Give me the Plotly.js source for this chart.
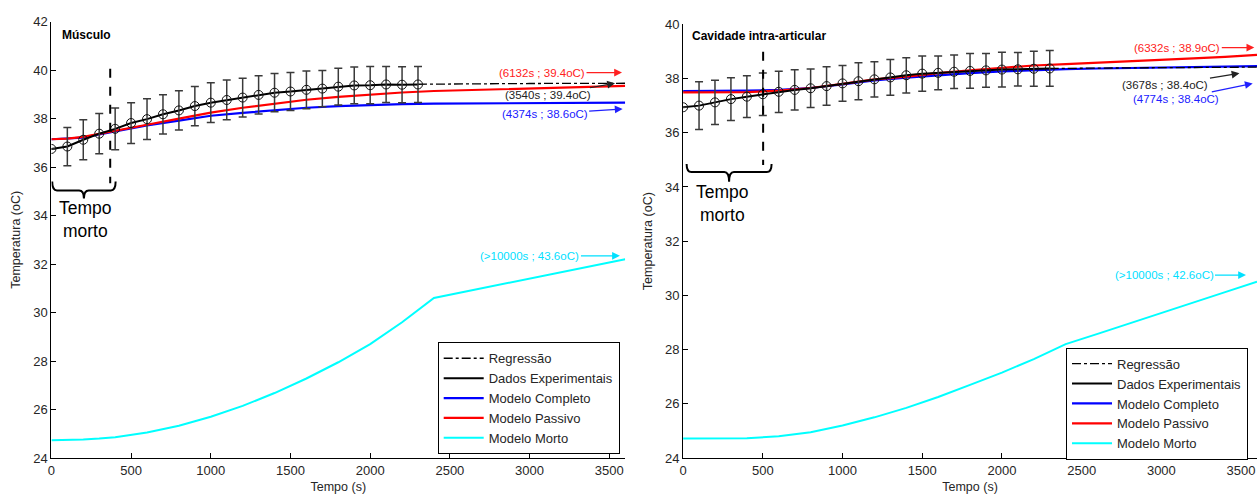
<!DOCTYPE html>
<html>
<head>
<meta charset="utf-8">
<script src="https://cdn.plot.ly/plotly-3.0.1.min.js"></script>
<style>html,body{margin:0;padding:0;background:#fff;}#chart{width:1257px;height:496px;}</style>
</head>
<body>
<div id="chart"></div>
<script>
// ---------- DATA ----------
const tExp = [0,100,200,300,400,500,600,700,800,900,1000,1100,1200,1300,1400,1500,1600,1700,1800,1900,2000,2100,2200,2300];
const muscExp = [36.75,36.85,37.13,37.38,37.58,37.82,37.98,38.18,38.34,38.52,38.66,38.77,38.87,38.98,39.07,39.12,39.19,39.24,39.32,39.37,39.38,39.41,39.40,39.41];
const muscErr = [0,0.79,0.83,0.83,0.86,0.84,0.84,0.81,0.81,0.81,0.82,0.82,0.80,0.79,0.79,0.78,0.78,0.75,0.76,0.76,0.77,0.74,0.74,0.74];
const cavExp = [36.94,37.00,37.12,37.24,37.33,37.42,37.51,37.58,37.64,37.72,37.82,37.90,37.97,38.04,38.12,38.18,38.21,38.25,38.28,38.30,38.33,38.34,38.36,38.37];
const cavErr = [0,0.88,0.82,0.79,0.77,0.78,0.76,0.74,0.71,0.71,0.66,0.68,0.65,0.66,0.65,0.65,0.62,0.62,0.64,0.62,0.64,0.62,0.65,0.66];

const tModel = [0,100,200,300,400,600,800,1000,1200,1400,1600,1800,2000,2200,2400,2600,2800,3000,3200,3400,3600];
const muscPassivo = [37.15,37.18,37.25,37.38,37.52,37.75,38.00,38.25,38.45,38.62,38.78,38.90,39.00,39.08,39.14,39.18,39.22,39.26,39.29,39.32,39.35];
const muscCompleto = [37.15,37.17,37.22,37.35,37.48,37.72,37.92,38.12,38.24,38.36,38.45,38.52,38.57,38.60,38.62,38.63,38.64,38.65,38.65,38.66,38.66];
const muscMorto = [24.73,24.74,24.76,24.80,24.86,25.05,25.33,25.70,26.15,26.68,27.28,27.95,28.70,29.60,30.60,30.87,31.13,31.40,31.67,31.93,32.20];
const cavPassivo = [37.49,37.49,37.49,37.50,37.50,37.55,37.65,37.80,37.97,38.07,38.20,38.30,38.40,38.48,38.53,38.58,38.62,38.68,38.74,38.80,38.87];
const cavCompleto = [37.54,37.54,37.54,37.54,37.55,37.58,37.65,37.78,37.93,38.03,38.12,38.20,38.26,38.31,38.35,38.37,38.39,38.41,38.43,38.45,38.46];
const cavMorto = [24.72,24.72,24.72,24.72,24.73,24.80,24.95,25.20,25.50,25.85,26.25,26.70,27.15,27.65,28.20,28.58,28.97,29.35,29.73,30.12,30.50];

const tReg = [2300,2600,3000,3600];
const muscReg = [39.42,39.44,39.45,39.46];
const cavReg = [38.37,38.39,38.40,38.42];

const legendNames = ['Regressão','Dados Experimentais','Modelo Completo','Modelo Passivo','Modelo Morto'];
const xTicks = [0,500,1000,1500,2000,2500,3000,3500];

// ---------- STYLE ----------
const FONT = 'Liberation Sans, Arial, sans-serif';
const TXT = '#262626';
const RED = '#ff0000', BLUE = '#0000ff', CYAN = '#00ffff', BLACK = '#000000';

function panel(xa, ya, leg, exp, err, passivo, completo, morto, reg) {
  return [
    {x: tModel, y: morto, xaxis: xa, yaxis: ya, mode: 'lines', name: legendNames[4], legend: leg, legendrank: 5,
     line: {color: CYAN, width: 2}},
    {x: tModel, y: completo, xaxis: xa, yaxis: ya, mode: 'lines', name: legendNames[2], legend: leg, legendrank: 3,
     line: {color: BLUE, width: 2.2}},
    {x: tModel, y: passivo, xaxis: xa, yaxis: ya, mode: 'lines', name: legendNames[3], legend: leg, legendrank: 4,
     line: {color: RED, width: 2.2}},
    {x: tReg, y: reg, xaxis: xa, yaxis: ya, mode: 'lines', name: legendNames[0], legend: leg, legendrank: 1,
     line: {color: BLACK, width: 1.3, dash: 'dashdot'}},
    {x: tExp, y: exp, xaxis: xa, yaxis: ya, mode: 'lines', name: legendNames[1], legend: leg, legendrank: 2,
     line: {color: BLACK, width: 2}},
    {x: tExp, y: exp, xaxis: xa, yaxis: ya, mode: 'markers', showlegend: false, legend: leg,
     marker: {symbol: 'circle-open', size: 9, color: '#111', line: {width: 1, color: '#111'}},
     error_y: {type: 'data', array: err, visible: true, color: '#3a3a3a', thickness: 1.5, width: 4}}
  ];
}

const data = [].concat(
  panel('x', 'y', 'legend', muscExp, muscErr, muscPassivo, muscCompleto, muscMorto, muscReg),
  panel('x2', 'y2', 'legend2', cavExp, cavErr, cavPassivo, cavCompleto, cavMorto, cavReg)
);

const W = 1257, H = 496;
const px = v => v / W, py = v => 1 - v / H;

function xaxisDef(d0, d1, anchor) {
  return {domain: [d0, d1], range: [0, 3600], anchor: anchor, tickvals: xTicks, ticks: 'inside', ticklen: 5,
    tickcolor: '#000', showline: true, linecolor: '#000', linewidth: 1, showgrid: false, zeroline: false,
    tickfont: {family: FONT, size: 13, color: TXT},
    title: {text: 'Tempo (s)', font: {family: FONT, size: 12.5, color: TXT}, standoff: 5}};
}
function yaxisDef(d0, d1, anchor, r1) {
  return {domain: [d0, d1], range: [24, r1], anchor: anchor, dtick: 2, ticks: 'inside', ticklen: 5,
    tickcolor: '#000', showline: true, linecolor: '#000', linewidth: 1, showgrid: false, zeroline: false,
    tickfont: {family: FONT, size: 13, color: TXT},
    title: {text: 'Temperatura (oC)', font: {family: FONT, size: 12.5, color: TXT}, standoff: 9}};
}

function brace(x0, x1, yTop, yMid, yBot, dx) {
  const xc = (x0 + x1) / 2;
  return `M ${x0},${yTop} Q ${x0},${yMid} ${x0+dx},${yMid} L ${xc-dx},${yMid} Q ${xc},${yMid} ${xc},${yBot} ` +
         `Q ${xc},${yMid} ${xc+dx},${yMid} L ${x1-dx},${yMid} Q ${x1},${yMid} ${x1},${yTop}`;
}

function arrowNote(xref, yref, x, y, ax, ay, text, color) {
  return {xref: xref, yref: yref, x: x, y: y, ax: ax, ay: ay, text: text, showarrow: true,
    arrowhead: 2, arrowsize: 1.3, arrowwidth: 1.2, arrowcolor: color, standoff: 0,
    font: {family: FONT, size: 11.5, color: color}};
}

const legendStyle = {xanchor: 'left', yanchor: 'top', bgcolor: '#fff', bordercolor: '#000', borderwidth: 1,
  font: {family: FONT, size: 13, color: TXT}, traceorder: 'normal', itemwidth: 40, tracegroupgap: 0};

const layout = {
  width: W, height: H,
  margin: {l: 0, r: 0, t: 0, b: 0},
  paper_bgcolor: '#fff', plot_bgcolor: '#fff',
  showlegend: true,
  xaxis: xaxisDef(px(51.4), px(625.2), 'y'),
  yaxis: yaxisDef(py(458), py(21.7), 'x', 42),
  xaxis2: xaxisDef(px(683.1), 1, 'y2'),
  yaxis2: yaxisDef(py(458), py(24.3), 'x2', 40),
  legend: Object.assign({x: px(437.7), y: py(342.3)}, legendStyle),
  legend2: Object.assign({x: px(1066), y: py(347.7)}, legendStyle),
  shapes: [
    {type: 'line', xref: 'x', yref: 'y', x0: 369, x1: 369, y0: 40.06, y1: 35.34, line: {color: '#000', width: 2, dash: 'dash'}},
    {type: 'line', xref: 'x2', yref: 'y2', x0: 502, x1: 502, y0: 38.99, y1: 34.81, line: {color: '#000', width: 2, dash: 'dash'}},
    {type: 'path', xref: 'x', yref: 'y', path: brace(5, 403, 35.41, 35.04, 34.71, 30), line: {color: '#000', width: 2}},
    {type: 'path', xref: 'x2', yref: 'y2', path: brace(22, 555, 34.85, 34.55, 34.19, 30), line: {color: '#000', width: 2}}
  ],
  annotations: [
    {xref: 'paper', yref: 'paper', x: px(60), y: py(35), xanchor: 'left', yanchor: 'middle', showarrow: false,
     text: '<b>Músculo</b>', font: {family: FONT, size: 12, color: '#000'}},
    {xref: 'paper', yref: 'paper', x: px(690), y: py(36), xanchor: 'left', yanchor: 'middle', showarrow: false,
     text: '<b>Cavidade intra-articular</b>', font: {family: FONT, size: 12, color: '#000'}},
    {xref: 'paper', yref: 'paper', x: px(85), y: py(219), xanchor: 'center', yanchor: 'middle', showarrow: false,
     text: 'Tempo<br>morto', font: {family: FONT, size: 17.5, color: '#000'}},
    {xref: 'paper', yref: 'paper', x: px(723), y: py(203), xanchor: 'center', yanchor: 'middle', showarrow: false,
     text: 'Tempo<br>morto', font: {family: FONT, size: 17.5, color: '#000'}},
    arrowNote('x', 'y', 3580, 39.9, -80, 0, '(6132s ; 39.4oC)', '#ff2020'),
    arrowNote('x', 'y', 3536, 39.46, -67, 12, '(3540s ; 39.4oC)', '#222'),
    arrowNote('x', 'y', 3584, 38.4, -78, 5, '(4374s ; 38.6oC)', '#2020ff'),
    arrowNote('x', 'y', 3567, 32.34, -90, 0, '(>10000s ; 43.6oC)', '#00e0ff'),
    arrowNote('x2', 'y2', 3583, 39.14, -77, 0, '(6332s ; 38.9oC)', '#ff2020'),
    arrowNote('x2', 'y2', 3490, 38.19, -74, 12, '(3678s ; 38.4oC)', '#222'),
    arrowNote('x2', 'y2', 3573, 37.82, -77, 16, '(4774s ; 38.4oC)', '#2020ff'),
    arrowNote('x2', 'y2', 3531, 30.75, -82, 0, '(>10000s ; 42.6oC)', '#00e0ff')
  ]
};

Plotly.newPlot('chart', data, layout, {staticPlot: true, displayModeBar: false});
</script>
</body>
</html>
